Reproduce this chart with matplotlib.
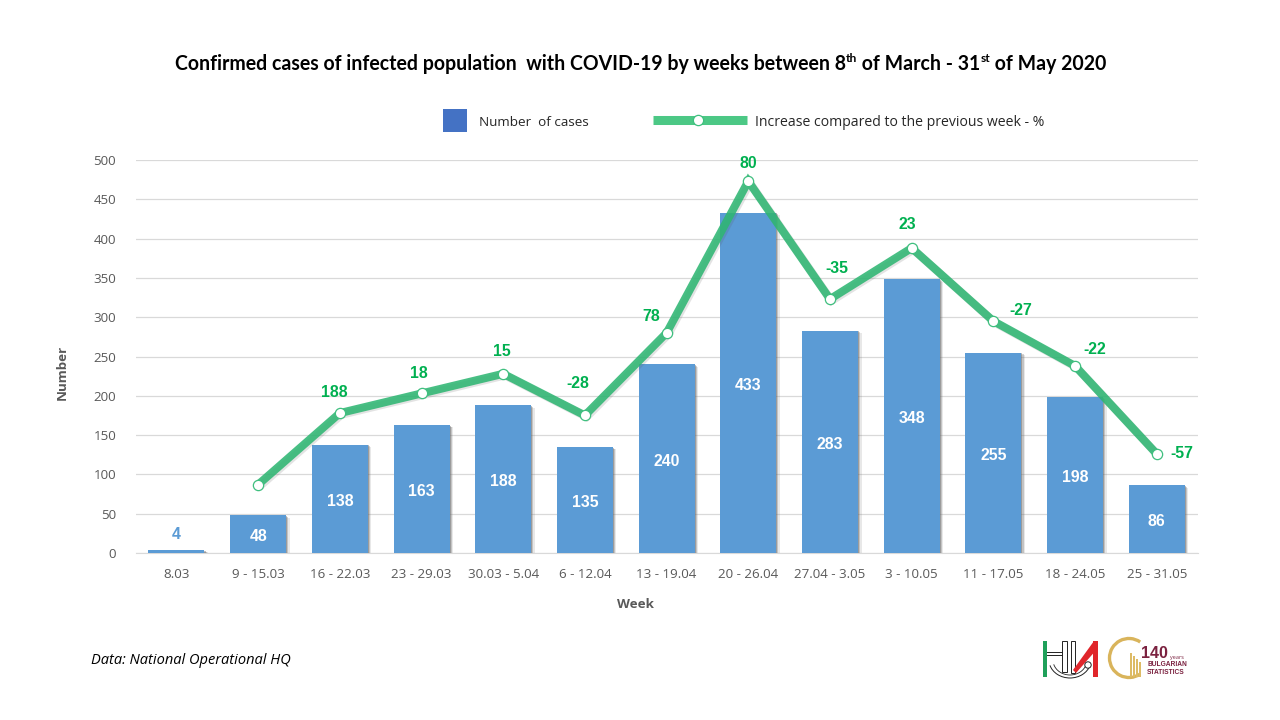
import matplotlib
matplotlib.use("Agg")
import matplotlib.pyplot as plt
import matplotlib.patheffects as pe
from matplotlib.patches import Rectangle, Arc, Circle, Polygon
from matplotlib.lines import Line2D

weeks = ["8.03", "9 - 15.03", "16 - 22.03", "23 - 29.03", "30.03 - 5.04", "6 - 12.04", "13 - 19.04",
         "20 - 26.04", "27.04 - 3.05", "3 - 10.05", "11 - 17.05", "18 - 24.05", "25 - 31.05"]
cases = [4, 48, 138, 163, 188, 135, 240, 433, 283, 348, 255, 198, 86]
line_height = [None, 87, 178, 203, 228, 175, 280, 473, 323, 388, 295, 238, 126]
pct_labels = [None, None, "188", "18", "15", "-28", "78", "80", "-35", "23", "-27", "-22", "-57"]
pct_offsets_px = [None, None, (-6, 21), (-3, 20), (-1, 22), (-7, 32), (-15, 16), (0, 18), (7, 31), (-4, 24), (27, 11), (20, 16), (25, 0)]
yticks = [0, 50, 100, 150, 200, 250, 300, 350, 400, 450, 500]

BLUE = "#5B9BD5"
GREEN = "#3FBF7F"
LABEL_GREEN = "#00B050"
GRAY = "#595959"
PX = 0.72
FONT = "Open Sans"
BOLD = ["Liberation Sans", "DejaVu Sans"]
TITLE = ["Lato", "DejaVu Sans"]
W, H = 1280, 720

plt.rcParams["font.family"] = [FONT, "DejaVu Sans"]
fig = plt.figure(figsize=(12.8, 7.2), dpi=100, facecolor="white")
ax = fig.add_axes([135.6 / W, 1 - 553 / H, (1197.6 - 135.6) / W, (553 - 160) / H])
x = list(range(len(weeks)))

ax.bar(x, cases, width=0.685, color=BLUE, zorder=3,
       path_effects=[pe.SimplePatchShadow(offset=(2.6, -1.8), shadow_rgbFace="#808080", alpha=0.18),
                     pe.SimplePatchShadow(offset=(1.6, -1.2), shadow_rgbFace="#707070", alpha=0.3),
                     pe.SimplePatchShadow(offset=(0.8, -0.6), shadow_rgbFace="#606060", alpha=0.4),
                     pe.Normal()])
ax.set_xlim(-0.5, len(weeks) - 0.5)
ax.set_ylim(0, 500)
ax.set_yticks(yticks)
ax.set_xticks(x, weeks)
ax.tick_params(axis="both", length=0, colors=GRAY, labelsize=9.6)
ax.tick_params(axis="x", pad=10.7)
ax.tick_params(axis="y", pad=14)
ax.grid(axis="y", color="#D9D9D9", lw=0.9, zorder=0)
ax.set_axisbelow(True)
for s in ["top", "right", "left"]:
    ax.spines[s].set_visible(False)
ax.spines["bottom"].set_color("#D9D9D9")

lx = [i for i, v in zip(x, line_height) if v is not None]
ly = [v for v in line_height if v is not None]
ax.plot(lx, ly, color="#2FB673", alpha=0.88, lw=5.8, zorder=4, solid_joinstyle="miter", solid_capstyle="butt",
        path_effects=[pe.SimpleLineShadow(offset=(1.2, -1.2), shadow_color="#555555", alpha=0.16), pe.Normal()])
ax.plot(lx, ly, ls="none", marker="o", ms=7.4, mfc="white", mec=GREEN, mew=0.9, zorder=5)

for i, v in enumerate(cases):
    if v < 20:
        ax.annotate(str(v), (i, v), xytext=(0, 15 * PX), textcoords="offset points", ha="center", va="center",
                    color=BLUE, fontsize=11.4, fontweight="bold", zorder=6, family=BOLD)
    else:
        ax.annotate(str(v), (i, v / 2), xytext=(0, -2.5 * PX), textcoords="offset points", ha="center", va="center",
                    color="white", fontsize=11.4, fontweight="bold", zorder=6, family=BOLD)

for i, (lab, off) in enumerate(zip(pct_labels, pct_offsets_px)):
    if lab is not None:
        ax.annotate(lab, (i, line_height[i]), xytext=(off[0] * PX, off[1] * PX), textcoords="offset points",
                    ha="center", va="center", color=LABEL_GREEN, fontsize=11.4, fontweight="bold", zorder=6, family=BOLD)

# Overlay in pixel coordinates for titles, legend and logos
ov = fig.add_axes([0, 0, 1, 1], zorder=10)
ov.set_xlim(0, W)
ov.set_ylim(H, 0)
ov.axis("off")
ov.patch.set_alpha(0)

ov.text(62, 372, "Number", rotation=90, ha="center", va="center", color=GRAY, fontsize=9.6, fontweight="bold")
ov.text(635, 604, "Week", ha="center", va="center", color=GRAY, fontsize=9.6, fontweight="bold")
ov.text(91, 660.5, "Data: National Operational HQ", ha="left", va="center", color="black", fontsize=10.5, fontstyle="italic")

# Title pieces with superscripts
pieces = [("Confirmed cases of infected population  with COVID-19 by weeks between 8", False), ("th", True),
          (" of March - 31", False), ("st", True), (" of May 2020", False)]
fig.canvas.draw()
r = fig.canvas.get_renderer()


def width_px(s, size):
    a = ov.text(0, 0, "|" + s + "|", fontsize=size, fontweight="bold", family=TITLE, alpha=0)
    b = ov.text(0, 0, "||", fontsize=size, fontweight="bold", family=TITLE, alpha=0)
    w = a.get_window_extent(r).width - b.get_window_extent(r).width
    a.remove()
    b.remove()
    return w


cx = 175
for s, sup in pieces:
    size = 8.6 if sup else 14.06
    ov.text(cx, 69.5 if not sup else 62.5, s, ha="left", va="baseline", color="black",
            fontsize=size, fontweight="bold", family=TITLE)
    cx += width_px(s, size)

# Legend
ov.add_patch(Rectangle((443, 109), 24, 23, color="#4472C4", lw=0))
ov.text(479, 122.5, "Number  of cases", ha="left", va="center", color="#262626", fontsize=9.7)
ov.add_line(Line2D([653, 747], [120, 120], color="#4CC885", lw=6.5, solid_capstyle="butt"))
ov.add_line(Line2D([698], [120], ls="none", marker="o", ms=7.4, mfc="white", mec=GREEN, mew=0.9))
ov.text(755, 122.5, "Increase compared to the previous week - %", ha="left", va="center", color="#262626", fontsize=10.05)

# NSI logo
DARK = "#222222"
RED = "#E0262B"
LOGO_GREEN = "#1FA05A"
ov.add_patch(Arc((1070, 660), 42, 36, theta1=15, theta2=165, ec=DARK, lw=0.7))
ov.add_patch(Arc((1070, 660), 34, 30, theta1=15, theta2=165, ec=DARK, lw=0.6))
ov.add_patch(Rectangle((1043, 641), 4, 36, color=LOGO_GREEN, lw=0))
ov.add_line(Line2D([1047, 1062], [652, 652], color=DARK, lw=0.7))
ov.add_line(Line2D([1047, 1062], [655, 655], color=DARK, lw=0.7))
ov.add_patch(Rectangle((1062, 641), 5, 31, facecolor="white", ec=DARK, lw=0.7))
ov.add_patch(Rectangle((1071, 641), 4, 32, facecolor="white", ec=DARK, lw=0.7))
ov.add_patch(Polygon([(1073, 670), (1094, 641), (1098, 641), (1098, 648), (1076, 673)], color=RED, lw=0))
ov.add_patch(Rectangle((1093, 641), 5, 36, color=RED, lw=0))
ov.add_patch(Circle((1088, 665), 3.2, facecolor="white", ec=DARK, lw=0.7))
# Bulgarian Statistics logo
ov.add_patch(Arc((1129, 658), 39, 39, theta1=55, theta2=305, ec="#D9B45B", lw=2.4))
for bx, top in zip([1130, 1133, 1136, 1139], [653, 656, 659, 662]):
    ov.add_patch(Rectangle((bx, top), 2.4, 677 - top, color="#DDBB66", lw=0))
ov.text(1141, 654, "140", ha="left", va="center", color="#7B2240", fontsize=11.5, fontweight="bold", family=BOLD)
ov.text(1170, 657, "years", ha="left", va="center", color="#7B2240", fontsize=4)
ov.text(1147, 665, "BULGARIAN", ha="left", va="center", color="#7B2240", fontsize=4.8, fontweight="bold", family=BOLD)
ov.text(1147, 673, "STATISTICS", ha="left", va="center", color="#7B2240", fontsize=4.8, fontweight="bold", family=BOLD)

fig.savefig("out.png", dpi=100)
